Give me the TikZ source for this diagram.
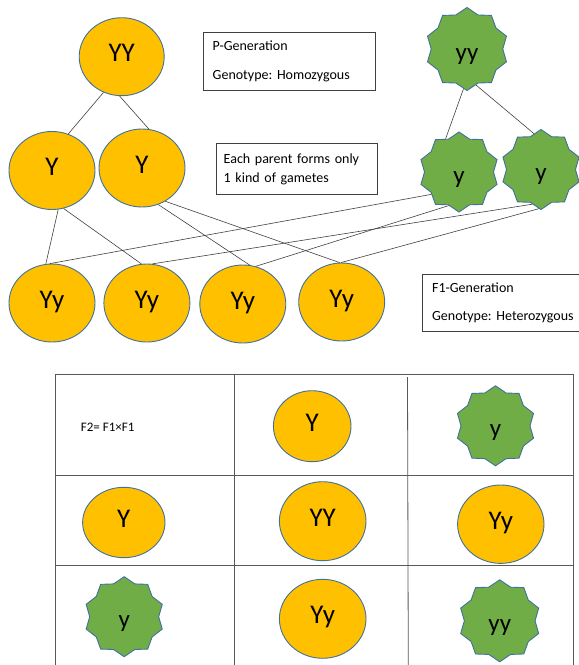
\documentclass[tikz,border=0pt]{standalone}
\usepackage{fontspec}
\setmainfont{Carlito}
\frenchspacing
\usetikzlibrary{positioning,shapes.geometric}
\definecolor{gold}{HTML}{FFC000}
\definecolor{leaf}{HTML}{70AD47}
\definecolor{rim}{HTML}{41719C}

\begin{document}
\begin{tikzpicture}[x=1pt,y=-1pt,
    allele/.style={ellipse,draw=rim,line width=0.9pt,fill=gold,inner sep=0pt,minimum width=86pt,minimum height=78pt,font=\fontsize{27}{30}\selectfont,text height=18pt,text depth=8pt},
    recess/.style={star,star points=10,star point ratio=1.16,draw=rim,line width=0.9pt,fill=leaf,inner sep=0pt,minimum size=81pt,font=\fontsize{25}{28}\selectfont,text height=22pt,text depth=0pt},
    note/.style={draw=black!75,line width=0.8pt,anchor=north west,align=left,font=\fontsize{14}{17}\selectfont},
    link/.style={black!75,line width=0.6pt},
    grid/.style={black!65,line width=0.8pt}]
    \useasboundingbox (0,0) rectangle (579,665);

        \node[allele,minimum width=85pt] (pYY) at (121.7,56.7) {YY};
        \node[allele] (gYl) at (52,170.5) {Y};
        \node[allele] (gYr) at (142,168) {Y};
        \node[recess,minimum size=83pt] (pyy) at (467,49) {yy};
        \node[recess,minimum size=80pt] (gyl) at (459,172) {y};
        \node[recess,minimum size=80pt] (gyr) at (541,169.5) {y};

        \node[allele] (fa) at (52,303) {Yy};
        \node[allele,right=8pt of fa] (fb) {Yy};
        \node[allele,right=9pt of fb,yshift=-1pt] (fc) {Yy};
        \node[allele,right=12pt of fc,yshift=2pt] (fd) {Yy};

        \node[note,text width=154pt,inner xsep=9pt,minimum height=57.7pt] (pgen) at (203.3,32.3) {P-Generation\\[12pt]Genotype: Homozygous};
        \node[note,text width=146pt,inner xsep=7.3pt,minimum height=51.6pt] (gam) at (216,142.7) {Each parent forms only\\[2pt]1 kind of gametes};
        \node[note,text width=148pt,inner xsep=10pt,minimum height=56.7pt] (fgen) at (421.7,274) {F1-Generation\\[11.7pt]Genotype: Heterozygous};

        \draw[link] (pYY.243) -- (gYl.66);
        \draw[link] (pYY.267) -- (gYr.80);
        \draw[link] (pyy.265) -- (gyl.112);
        \draw[link] (pyy.284) -- (gyr.101);
        \draw[link] (gYl.279) -- (fa.99);
        \draw[link] (gYl.287) -- (fb.98);
        \draw[link] (gYr.294) -- (fc.80);
        \draw[link] (gYr.305) -- (fd.93);
        \draw[link] (gyl.219) -- (fa.93);
        \draw[link] (gyl.253) -- (fc.71);
        \draw[link] (gyr.256) -- (fb.82);
        \draw[link] (gyr.267) -- (fd.91);

        \draw[grid] (55.7,374.3) -- (573.3,374.3);
        \draw[grid] (55.7,475) -- (573.3,475);
        \draw[grid] (55.7,565) -- (573.3,565);
        \draw[grid] (55.7,374.3) -- (55.7,665);
        \draw[grid] (234.3,374.3) -- (234.3,665);
        \draw[grid] (407.5,377) -- (408.3,665);
        \draw[grid] (573.3,374.3) -- (573.3,665);

        \node[anchor=west,font=\fontsize{13}{15}\selectfont] (cross) at (77.3,427.3) {F2= F1×F1};
        \node[allele,minimum width=77.6pt,minimum height=71pt] (tY) at (312.2,426.2) {Y};
        \node[recess,minimum size=80pt] (ty) at (495.5,425.8) {y};
        \node[allele,minimum width=82.4pt,minimum height=70.4pt] (rY) at (123.8,522.5) {Y};
        \node[allele,minimum width=86.6pt,minimum height=79pt] (rYY) at (322.7,521.2) {YY};
        \node[allele,minimum width=86.4pt,minimum height=78.4pt] (rYy) at (500.8,524.2) {Yy};
        \node[recess,minimum size=80pt] (cy) at (124.2,616.7) {y};
        \node[allele,minimum width=86.6pt,minimum height=79pt] (cYy) at (322.7,618.8) {Yy};
        \node[recess,minimum size=82pt] (cyy) at (499.7,620.8) {yy};
    \end{tikzpicture}
\end{document}
